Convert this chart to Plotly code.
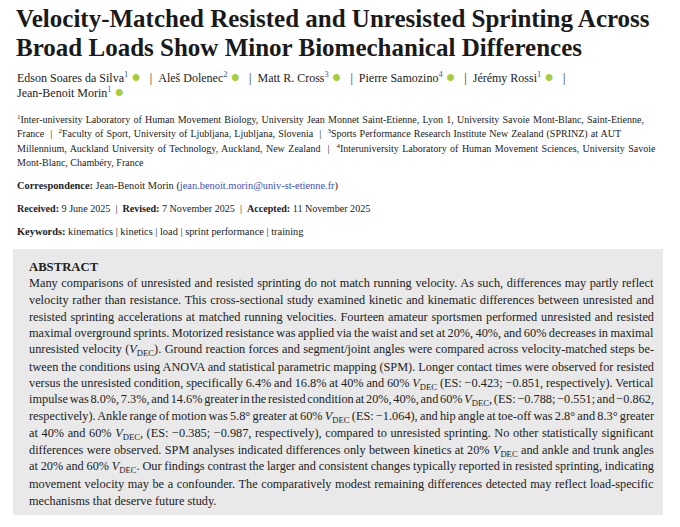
import json
import plotly.graph_objects as go

W, H = 680, 527

TITLE_LINES = [
    "Velocity-Matched Resisted and Unresisted Sprinting Across",
    "Broad Loads Show Minor Biomechanical Differences",
]

AUTHORS = [
    ("Edson Soares da Silva", "1"),
    ("Aleš Dolenec", "2"),
    ("Matt R. Cross", "3"),
    ("Pierre Samozino", "4"),
    ("Jérémy Rossi", "1"),
    ("Jean-Benoit Morin", "1"),
]
AUTHORS_PER_LINE = [5, 1]

NB = "\u00a0"
SEP = NB * 2 + "|" + NB * 2

AFFILIATION_LINES = [
    "<sup>1</sup>Inter-university Laboratory of Human Movement Biology, University Jean Monnet Saint-Etienne, Lyon 1, University Savoie Mont-Blanc, Saint-Etienne,",
    f"France{SEP}<sup>2</sup>Faculty of Sport, University of Ljubljana, Ljubljana, Slovenia{SEP}<sup>3</sup>Sports Performance Research Institute New Zealand (SPRINZ) at AUT",
    f"Millennium, Auckland University of Technology, Auckland, New Zealand{SEP}<sup>4</sup>Interuniversity Laboratory of Human Movement Sciences, University Savoie",
    "Mont-Blanc, Chambéry, France",
]

CORRESPONDENCE = ("Jean-Benoit Morin", "jean.benoit.morin@univ-st-etienne.fr")
DATES = [("Received", "9 June 2025"), ("Revised", "7 November 2025"), ("Accepted", "11 November 2025")]
KEYWORDS = ["kinematics", "kinetics", "load", "sprint performance", "training"]

V = "<i>V</i><sub>DEC</sub>"
ABSTRACT_LINES = [
    "Many comparisons of unresisted and resisted sprinting do not match running velocity. As such, differences may partly reflect",
    "velocity rather than resistance. This cross-sectional study examined kinetic and kinematic differences between unresisted and",
    "resisted sprinting accelerations at matched running velocities. Fourteen amateur sportsmen performed unresisted and resisted",
    "maximal overground sprints. Motorized resistance was applied via the waist and set at 20%, 40%, and 60% decreases in maximal",
    f"unresisted velocity ({V}). Ground reaction forces and segment/joint angles were compared across velocity-matched steps be-",
    "tween the conditions using ANOVA and statistical parametric mapping (SPM). Longer contact times were observed for resisted",
    f"versus the unresisted condition, specifically 6.4% and 16.8% at 40% and 60% {V} (ES: −0.423; −0.851, respectively). Vertical",
    f"impulse was 8.0%, 7.3%, and 14.6% greater in the resisted condition at 20%, 40%, and 60% {V}, (ES: −0.788; −0.551; and −0.862,",
    f"respectively). Ankle range of motion was 5.8° greater at 60% {V} (ES: −1.064), and hip angle at toe-off was 2.8° and 8.3° greater",
    f"at 40% and 60% {V}, (ES: −0.385; −0.987, respectively), compared to unresisted sprinting. No other statistically significant",
    f"differences were observed. SPM analyses indicated differences only between kinetics at 20% {V} and ankle and trunk angles",
    f"at 20% and 60% {V}. Our findings contrast the larger and consistent changes typically reported in resisted sprinting, indicating",
    "movement velocity may be a confounder. The comparatively modest remaining differences detected may reflect load-specific",
    "mechanisms that deserve future study.",
]

SERIF = "Liberation Serif"
TEXT = "#222222"
LINK = "#3a4fc4"
ORCID = "#a6ce39"

# abstract box and its text column, in page pixels
BOX_L, BOX_R, BOX_T, BOX_B = 13, 663, 249, 515
COL_L, COL_R = 27, 652
# right ends of the affiliation lines (last one is left ragged)
AFF_L = 15
AFF_R = [642, 619, 654, None]


def px(x):
    return x / W


def py(y):
    return 1 - y / H


def note(x, y, text, size, bold=False, color=TEXT):
    if bold:
        text = f"<b>{text}</b>"
    return dict(x=px(x), y=py(y), xref="paper", yref="paper", text=text,
                showarrow=False, xanchor="left", yanchor="middle", align="left",
                font=dict(family=SERIF, size=size, color=color))


orcid = f"<span style='color:{ORCID};font-size:16px'>●</span>"
author_bits = [f"{n}<sup><span style='color:{LINK}'>{s}</span></sup>{NB}{orcid}" for n, s in AUTHORS]
author_sep = NB * 3 + "|" + NB * 2
author_lines = []
i = 0
for k in AUTHORS_PER_LINE:
    line = author_sep.join(author_bits[i:i + k])
    if i + k < len(author_bits):
        line += NB * 3 + "|"
    author_lines.append(line)
    i += k

ann = []
justify = []
for j, t in enumerate(TITLE_LINES):
    ann.append(note(14, 19 + j * 28.5, t, 25, bold=True, color="#1a1a1a"))
for j, t in enumerate(author_lines):
    ann.append(note(15, 76.5 + j * 15, t, 12))
for j, t in enumerate(AFFILIATION_LINES):
    if AFF_R[j]:
        justify.append([len(ann), AFF_R[j] - AFF_L])
    ann.append(note(AFF_L, 118.5 + j * 14.5, t, 10.0))

ann.append(note(15, 186, f"<b>Correspondence:</b> {CORRESPONDENCE[0]} (<span style='color:{LINK}'>{CORRESPONDENCE[1]}</span>)", 10.4))
ann.append(note(15, 208, SEP.join(f"<b>{k}:</b> {v}" for k, v in DATES), 10.1))
ann.append(note(15, 231, "<b>Keywords:</b> " + " | ".join(KEYWORDS), 10.4))

ann.append(note(COL_L, 267, "ABSTRACT", 12.7, bold=True))
for j, t in enumerate(ABSTRACT_LINES):
    if j < len(ABSTRACT_LINES) - 1:
        justify.append([len(ann), COL_R - COL_L])
    ann.append(note(COL_L, 283 + j * 16.75, t, 12.3))

fig = go.Figure()
fig.add_shape(type="rect", xref="paper", yref="paper",
              x0=px(BOX_L), x1=px(BOX_R), y0=py(BOX_T), y1=py(BOX_B),
              fillcolor="#e9e9e9", line_width=0, layer="below")

fig.update_layout(
    width=W, height=H,
    margin=dict(l=0, r=0, t=0, b=0),
    paper_bgcolor="white", plot_bgcolor="white",
    xaxis=dict(visible=False, range=[0, 1]),
    yaxis=dict(visible=False, range=[0, 1]),
    annotations=ann,
    showlegend=False,
)

# drop the page margin, then justify the paragraph lines by word spacing
# (the effect of 1px of spacing is measured, so tspans that ignore it are handled)
post = """
document.body.style.margin = '0';
var gd = document.getElementById('{plot_id}');
var jobs = JOBS;
jobs.forEach(function (job) {
    var g = gd.querySelector('g.annotation[data-index="' + job[0] + '"]');
    if (!g) return;
    var t = g.querySelector('text.annotation-text');
    var parts = [t].concat(Array.prototype.slice.call(t.querySelectorAll('tspan')));
    var setWs = function (v) { parts.forEach(function (p) { p.style.wordSpacing = v + 'px'; }); };
    setWs(0);
    var w0 = t.getBBox().width;
    setWs(1);
    var per = t.getBBox().width - w0;
    if (per <= 0) { setWs(0); return; }
    setWs((job[1] - w0) / per);
});
""".replace("JOBS", json.dumps(justify))

fig.write_html("out.html", post_script=post, config={"displayModeBar": False})
